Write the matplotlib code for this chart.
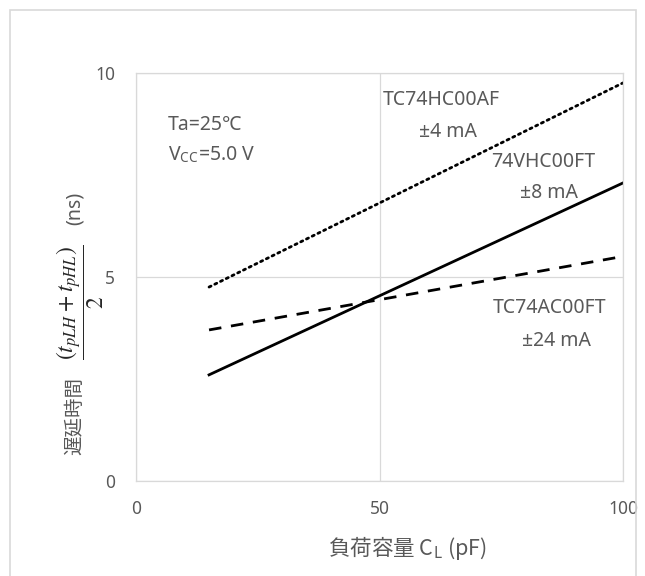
import matplotlib
matplotlib.use("Agg")
import matplotlib.pyplot as plt
from matplotlib.patches import Rectangle

plt.rcParams['font.family'] = ['Noto Sans', 'Noto Sans CJK JP', 'DejaVu Sans']
plt.rcParams['mathtext.fontset'] = 'stix'

# load capacitance (pF) and propagation delay (ns)
cl = [15, 100]
hc00 = [4.75, 9.75]
vhc00 = [2.6, 7.3]
ac00 = [3.7, 5.5]

x_ticks = [0, 50, 100]
y_ticks = [0, 5, 10]

gray = "#595959"
grid = "#d9d9d9"

fig = plt.figure(figsize=(6.45, 5.76), dpi=100)
ax = fig.add_axes([136 / 645, 1 - 481 / 576, 487 / 645, 408.3 / 576])

ax.plot(cl, hc00, color="black", lw=2.0, linestyle=(0, (0.8, 1.5)), dash_capstyle="round")
ax.plot(cl, vhc00, color="black", lw=2.0)
ax.plot(cl, ac00, color="black", lw=2.0, linestyle=(0, (4.5, 3.5)))

ax.set_xlim(0, 100)
ax.set_ylim(0, 10)
ax.set_xticks(x_ticks)
ax.set_yticks(y_ticks)
ax.grid(True, color=grid, lw=0.9)
ax.set_axisbelow(True)
for s in ax.spines.values():
    s.set_color(grid)
    s.set_linewidth(0.9)
ax.tick_params(length=0, colors=gray, labelsize=12.5)
ax.tick_params(axis="x", pad=14)
ax.tick_params(axis="y", pad=15)

fs = 14
ax.text(6.6, 8.72, "Ta=25℃", color=gray, fontsize=fs, va="center", ha="left")
ax.text(6.6, 7.98, "V$_{\\mathregular{CC}}$=5.0 V", color=gray, fontsize=fs, va="center", ha="left")
ax.text(50.6, 9.33, "TC74HC00AF", color=gray, fontsize=fs, va="center", ha="left")
ax.text(64.0, 8.55, "±4 mA", color=gray, fontsize=fs, va="center", ha="center")
ax.text(72.9, 7.82, "74VHC00FT", color=gray, fontsize=fs, va="center", ha="left")
ax.text(84.8, 7.05, "±8 mA", color=gray, fontsize=fs, va="center", ha="center")
ax.text(73.3, 4.23, "TC74AC00FT", color=gray, fontsize=fs, va="center", ha="left")
ax.text(86.3, 3.42, "±24 mA", color=gray, fontsize=fs, va="center", ha="center")

# y label made of three pieces
fig.text(75 / 645, 1 - 416 / 576, "遅延時間", rotation=90, color=gray, fontsize=14,
         ha="center", va="center")
fig.text(80 / 645, 1 - 302 / 576, r"$\dfrac{\left(t_{pLH}+t_{pHL}\right)}{2}$", rotation=90,
         color="#262626", fontsize=17, ha="center", va="center")
fig.text(75 / 645, 1 - 208 / 576, "(ns)", rotation=90, color=gray, fontsize=14,
         ha="center", va="center")

# mathtext does not fall back between families, so use the CJK font here
fig.text(407 / 645, 1 - 548 / 576, "負荷容量 C$_{\\mathregular{L}}$ (pF)", color=gray, fontsize=15.5,
         ha="center", va="center", family="Noto Sans CJK JP")

fig.patches.append(Rectangle((10 / 645, -0.05), 626 / 645, 1.05 - 10 / 576, transform=fig.transFigure,
                             fill=False, edgecolor=grid, lw=1.2))

fig.savefig("out.png", dpi=100)
